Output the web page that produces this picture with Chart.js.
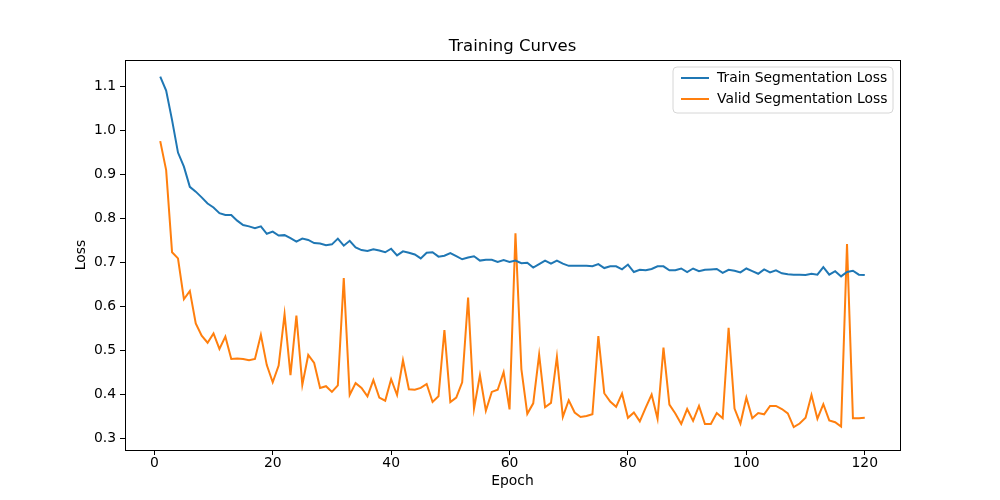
<!DOCTYPE html>
<html>
<head>
<meta charset="utf-8">
<script src="https://cdn.jsdelivr.net/npm/chart.js@4.4.1/dist/chart.umd.min.js"></script>
<style>
  body { margin: 0; background: #fff; }
  canvas { display: block; }
</style>
</head>
<body>
<canvas id="curves" width="1000" height="500"></canvas>
<script>
// values
const epochs = [];
for (let e = 1; e <= 120; e++) epochs.push(e);

const trainLoss = [
  1.123, 1.091, 1.024, 0.950, 0.918, 0.872, 0.861, 0.848, 0.834, 0.825,
  0.812, 0.808, 0.808, 0.795, 0.785, 0.782, 0.778, 0.782, 0.765, 0.770,
  0.761, 0.762, 0.755, 0.747, 0.754, 0.751, 0.744, 0.743, 0.739, 0.741,
  0.754, 0.738, 0.749, 0.734, 0.728, 0.726, 0.730, 0.727, 0.723, 0.731,
  0.716, 0.725, 0.722, 0.718, 0.709, 0.722, 0.723, 0.713, 0.715, 0.721,
  0.714, 0.707, 0.711, 0.714, 0.704, 0.706, 0.706, 0.701, 0.705, 0.701,
  0.704, 0.698, 0.699, 0.688, 0.696, 0.704, 0.697, 0.704, 0.697, 0.692,
  0.692, 0.692, 0.692, 0.691, 0.696, 0.687, 0.691, 0.691, 0.684, 0.695,
  0.678, 0.683, 0.682, 0.685, 0.691, 0.691, 0.682, 0.682, 0.686, 0.678,
  0.686, 0.680, 0.683, 0.684, 0.685, 0.676, 0.683, 0.681, 0.677, 0.686,
  0.680, 0.674, 0.684, 0.677, 0.682, 0.675, 0.673, 0.672, 0.672, 0.671,
  0.674, 0.672, 0.689, 0.672, 0.680, 0.668, 0.678, 0.681, 0.672, 0.671
];

const validLoss = [
  0.976, 0.910, 0.723, 0.709, 0.616, 0.635, 0.561, 0.533, 0.517, 0.538,
  0.503, 0.531, 0.480, 0.481, 0.480, 0.477, 0.480, 0.535, 0.466, 0.427,
  0.465, 0.582, 0.443, 0.579, 0.421, 0.489, 0.471, 0.414, 0.418, 0.405,
  0.420, 0.664, 0.398, 0.425, 0.414, 0.395, 0.432, 0.392, 0.385, 0.434,
  0.398, 0.477, 0.411, 0.410, 0.414, 0.423, 0.382, 0.395, 0.546, 0.382,
  0.392, 0.427, 0.620, 0.367, 0.443, 0.362, 0.405, 0.410, 0.450, 0.365,
  0.766, 0.457, 0.355, 0.379, 0.490, 0.370, 0.380, 0.485, 0.348, 0.386,
  0.358, 0.348, 0.350, 0.354, 0.532, 0.402, 0.383, 0.371, 0.401, 0.346,
  0.358, 0.338, 0.369, 0.399, 0.344, 0.506, 0.376, 0.356, 0.332, 0.366,
  0.339, 0.373, 0.332, 0.332, 0.357, 0.345, 0.551, 0.367, 0.333, 0.392,
  0.345, 0.357, 0.354, 0.373, 0.373, 0.366, 0.356, 0.325, 0.333, 0.346,
  0.398, 0.344, 0.377, 0.340, 0.336, 0.326, 0.742, 0.345, 0.345, 0.346
];

const xTicks = [0, 20, 40, 60, 80, 100, 120];
const yTicks = [0.3, 0.4, 0.5, 0.6, 0.7, 0.8, 0.9, 1.0, 1.1];

const FONT = "'DejaVu Sans', sans-serif";

// matplotlib-like frame, title and legend box
const frameAndLegend = {
  id: "frameAndLegend",
  afterDraw(chart) {
    const { ctx, chartArea } = chart;
    const { left, right, top, bottom } = chartArea;
    ctx.save();
    ctx.strokeStyle = "#000";
    ctx.lineWidth = 1;
    ctx.strokeRect(left + 0.5, top + 0.5, right - left, bottom - top);

    ctx.fillStyle = "#000";
    ctx.font = "16.5px " + FONT;
    ctx.textAlign = "center";
    ctx.textBaseline = "middle";
    ctx.fillText("Training Curves", (left + right) / 2, 46.5);

    // legend
    const bx = 673, by = 67, bw = 220, bh = 46, r = 4;
    ctx.beginPath();
    ctx.moveTo(bx + r, by);
    ctx.arcTo(bx + bw, by, bx + bw, by + bh, r);
    ctx.arcTo(bx + bw, by + bh, bx, by + bh, r);
    ctx.arcTo(bx, by + bh, bx, by, r);
    ctx.arcTo(bx, by, bx + bw, by, r);
    ctx.closePath();
    ctx.fillStyle = "rgba(255,255,255,0.8)";
    ctx.fill();
    ctx.strokeStyle = "#d6d6d6";
    ctx.stroke();

    ctx.font = "13.9px " + FONT;
    ctx.textAlign = "left";
    chart.data.datasets.forEach((ds, i) => {
      const y = by + 11 + i * 21;
      ctx.strokeStyle = ds.borderColor;
      ctx.lineWidth = 2;
      ctx.beginPath();
      ctx.moveTo(bx + 8, y);
      ctx.lineTo(bx + 36, y);
      ctx.stroke();
      ctx.fillStyle = "#000";
      ctx.fillText(ds.label, bx + 44, y);
    });
    ctx.restore();
  },
};

const ctx = document.getElementById("curves").getContext("2d");
const chart = new Chart(ctx, {
  type: "line",
  data: {
    datasets: [
      {
        label: "Train Segmentation Loss",
        data: epochs.map((e, i) => ({ x: e, y: trainLoss[i] })),
        borderColor: "#1f77b4",
        borderWidth: 2,
        pointRadius: 0,
        tension: 0,
      },
      {
        label: "Valid Segmentation Loss",
        data: epochs.map((e, i) => ({ x: e, y: validLoss[i] })),
        borderColor: "#ff7f0e",
        borderWidth: 2,
        pointRadius: 0,
        tension: 0,
      },
    ],
  },
  options: {
    responsive: false,
    devicePixelRatio: 1,
    animation: false,
    layout: { padding: { left: 73, right: 100, top: 60, bottom: 10 } },
    plugins: {
      legend: { display: false },
      title: { display: false },
      tooltip: { enabled: false },
    },
    scales: {
      x: {
        type: "linear",
        min: -4.95,
        max: 125.95,
        afterFit(scale) { scale.height = 40; },
        afterBuildTicks(scale) { scale.ticks = xTicks.map((v) => ({ value: v })); },
        grid: { drawOnChartArea: false, tickLength: 5, tickColor: "#000" },
        border: { display: false },
        ticks: { color: "#000", font: { family: FONT, size: 13.9 }, padding: 0, maxRotation: 0 },
        title: { display: true, text: "Epoch", color: "#000", font: { family: FONT, size: 13.9 }, padding: 0 },
      },
      y: {
        min: 0.2727,
        max: 1.1608,
        afterFit(scale) { scale.width = 52; },
        afterBuildTicks(scale) { scale.ticks = yTicks.map((v) => ({ value: v })); },
        grid: { drawOnChartArea: false, tickLength: 5, tickColor: "#000" },
        border: { display: false },
        ticks: {
          color: "#000",
          font: { family: FONT, size: 13.9 },
          padding: 4,
          callback: (v) => v.toFixed(1),
        },
        title: { display: true, text: "Loss", color: "#000", font: { family: FONT, size: 13.9 }, padding: 0 },
      },
    },
  },
  plugins: [frameAndLegend],
});
</script>
</body>
</html>
